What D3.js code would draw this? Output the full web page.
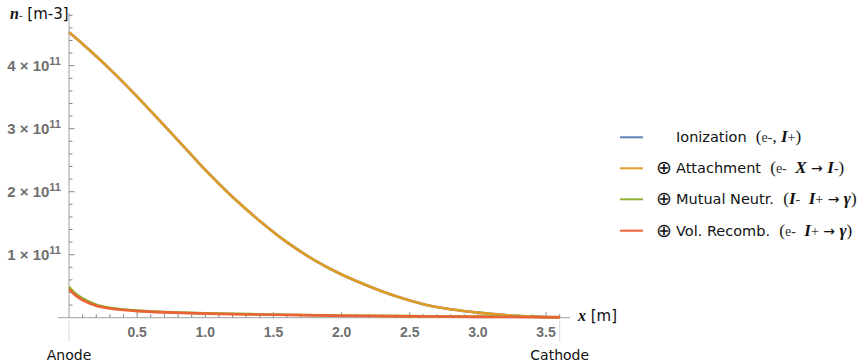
<!DOCTYPE html>
<html><head><meta charset="utf-8">
<script src="https://cdn.jsdelivr.net/npm/d3@7"></script>
<style>body{margin:0;background:#fff}svg{display:block}</style>
</head><body>
<svg id="c" width="864" height="362"></svg>
<script>
// ---- data (densities in units of 1e11 m^-3) ----
const xAttach = [0,0.1,0.2,0.3,0.4,0.5,0.6,0.7,0.8,0.9,1.0,1.2,1.4,1.6,1.8,2.0,2.2,2.4,2.6,2.8,3.0,3.2,3.4,3.6];
const attachment = [4.53,4.345,4.15,3.945,3.73,3.508,3.28,3.048,2.814,2.58,2.345,1.915,1.535,1.195,0.915,0.685,0.50,0.34,0.215,0.135,0.08,0.042,0.017,0.004];
const ionization = attachment.slice(); // hidden under the attachment curve
const xLow = [0,0.05,0.1,0.2,0.3,0.4,0.5,0.7,1.0,1.5,2.0,2.5,3.0,3.6];
const mutualNeutr = [0.49,0.38,0.305,0.205,0.158,0.13,0.112,0.09,0.07,0.05,0.036,0.026,0.018,0.012];
const volRecomb   = [0.45,0.35,0.28,0.19,0.146,0.121,0.104,0.084,0.065,0.046,0.031,0.021,0.013,0.008];
const xTicks = [0.5,1.0,1.5,2.0,2.5,3.0,3.5];
const yTicks = [1,2,3,4];
const seriesNames = ["Ionization","Attachment","Mutual Neutr.","Vol. Recomb."];
const colors = ["#5E81B5","#E19C24","#8FB032","#EB6235"];

const svg = d3.select("#c");
const x = d3.scaleLinear().domain([0,3.6]).range([69,559.7]);
const y = d3.scaleLinear().domain([0,4.8]).range([317.7,15.3]);
const axisCol = "#a0a0a0";
const tickFont = "'Liberation Sans', Arial, sans-serif";
const textFont = "'DejaVu Sans', Verdana, sans-serif";
const serif = "'Liberation Serif','Times New Roman',serif";

// x axis
const xAx = svg.append("g");
xAx.append("line").attr("x1",58).attr("x2",570).attr("y1",y(0)).attr("y2",y(0)).attr("stroke",axisCol);
d3.range(1,37).forEach(i=>{
  const v=i/10, major = i%5===0;
  xAx.append("line").attr("x1",x(v)).attr("x2",x(v)).attr("y1",y(0)).attr("y2",y(0)-(major?5.5:3.5)).attr("stroke","#888");
});
xAx.selectAll("text.xt").data(xTicks).enter().append("text")
  .attr("x",d=>x(d)).attr("y",337).attr("text-anchor","middle")
  .attr("font-family",tickFont).attr("font-weight","bold").attr("font-size",14).attr("fill","#6f6f6f")
  .text(d=>d.toFixed(1));
// Anode / Cathode ticks
[[0,"Anode"],[3.6,"Cathode"]].forEach(([v,t])=>{
  xAx.append("line").attr("x1",x(v)).attr("x2",x(v)).attr("y1",y(0)+3).attr("y2",y(0)+24).attr("stroke","#d8d8d8");
  xAx.append("text").attr("x",x(v)).attr("y",360).attr("text-anchor","middle")
    .attr("font-family",textFont).attr("font-size",14).attr("fill","#111").text(t);
});
// x label
const xl = svg.append("text").attr("x",578).attr("y",321).attr("font-size",16).attr("fill","#111");
xl.append("tspan").attr("font-family",serif).attr("font-style","italic").attr("font-weight","bold").text("x");
xl.append("tspan").attr("font-family",textFont).attr("font-size",15).text(" [m]");

// y axis
const yAx = svg.append("g");
yAx.append("line").attr("x1",69).attr("x2",69).attr("y1",13).attr("y2",y(0)).attr("stroke",axisCol);
d3.range(1,25).forEach(i=>{
  const v=i/5, major = i%5===0;
  yAx.append("line").attr("x1",69).attr("x2",69+(major?5.5:3.5)).attr("y1",y(v)).attr("y2",y(v)).attr("stroke","#888");
});
yTicks.forEach(v=>{
  const t = yAx.append("text").attr("x",61).attr("y",y(v)+5.5).attr("text-anchor","end")
    .attr("font-family",tickFont).attr("font-weight","bold").attr("font-size",15).attr("fill","#6f6f6f")
    .attr("xml:space","preserve").style("white-space","pre");
  t.append("tspan").text(v+" \u00d7 10");
  t.append("tspan").attr("font-size",11).attr("dy",-6.5).text("11");
});
// y label
const yl = svg.append("text").attr("x",10).attr("y",19).attr("font-size",16).attr("fill","#111");
yl.append("tspan").attr("font-family",serif).attr("font-style","italic").attr("font-weight","bold").text("n");
yl.append("tspan").attr("font-family",serif).attr("font-size",11).text("-");
yl.append("tspan").attr("font-family",textFont).attr("font-size",15).text(" [m-3]");

// curves
const line = d3.line().x(d=>x(d[0])).y(d=>y(d[1])).curve(d3.curveCatmullRom.alpha(0.5));
const series = [
  [xAttach, ionization, colors[0]],
  [xAttach, attachment, colors[1]],
  [xLow, mutualNeutr, colors[2]],
  [xLow, volRecomb, colors[3]]
];
series.forEach(([xs,ys,c])=>{
  svg.append("path").attr("d",line(xs.map((v,i)=>[v,ys[i]])))
    .attr("fill","none").attr("stroke",c).attr("stroke-width",2.6).attr("stroke-linejoin","round");
});

// legend
const legendRows = [
  {plus:false, name:seriesNames[0], parts:[["(",0],["e-",1],[", ",0],["I",2],["+",1],[")",0]]},
  {plus:true,  name:seriesNames[1], parts:[["(",0],["e-",1],["  ",0],["X",2],[" \u2192 ",3],["I",2],["-",1],[")",0]]},
  {plus:true,  name:seriesNames[2], parts:[["(",0],["I",2],["-",1],["  ",0],["I",2],["+",1],[" \u2192 ",3],["\u03b3",2],[")",0]]},
  {plus:true,  name:seriesNames[3], parts:[["(",0],["e-",1],["  ",0],["I",2],["+",1],[" \u2192 ",3],["\u03b3",2],[")",0]]}
];
const ly = [137.3,168.3,199.3,230.7];
legendRows.forEach((r,i)=>{
  const g = svg.append("g");
  g.append("line").attr("x1",620).attr("x2",643).attr("y1",ly[i]).attr("y2",ly[i]).attr("stroke",colors[i]).attr("stroke-width",2);
  if(r.plus) g.append("text").attr("x",656).attr("y",ly[i]+6).attr("font-family",serif).attr("font-size",19).attr("fill","#111").text("\u2295");
  const t = g.append("text").attr("x",676).attr("y",ly[i]+5).attr("font-family",textFont).attr("font-size",14.5).attr("fill","#111")
    .attr("xml:space","preserve").style("white-space","pre");
  t.append("tspan").text(r.name+"  ");
  r.parts.forEach(([s,k])=>{
    const ts = t.append("tspan").attr("font-family",serif).text(s);
    if(k===0) ts.attr("font-size",17);
    if(k===1) ts.attr("font-size",14).attr("fill","#333");
    if(k===2) ts.attr("font-size",17).attr("font-style","italic").attr("font-weight","bold");
    if(k===3) ts.attr("font-size",14).attr("font-family",textFont);
  });
});
</script>
</body></html>
